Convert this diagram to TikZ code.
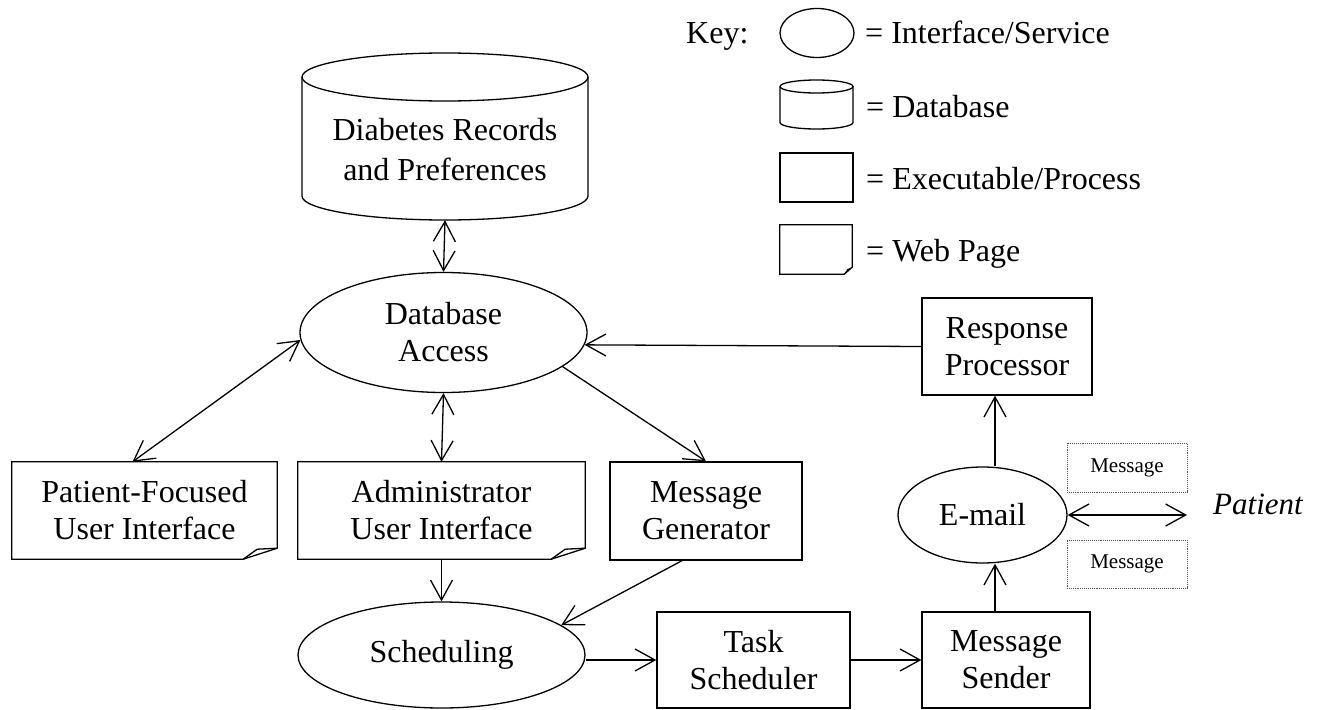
\documentclass[tikz,border=0pt]{standalone}
\usepackage{fontspec}
\setmainfont{Liberation Serif}
\usetikzlibrary{shapes.geometric,arrows.meta}
\begin{document}
\begin{tikzpicture}[x=1pt,y=-1pt,
  every node/.style={font=\fontsize{32}{37}\selectfont},
  ln/.style={line width=1.3pt},
  tipb/.tip={Straight Barb[length=20pt,width=22pt]},
  arr/.style={ln,-tipb},
  darr/.style={ln,tipb-tipb},
  proc/.style={draw,ln,rectangle,inner sep=0pt,align=center},
  webpg/.style={inner sep=0pt,align=center},
  iface/.style={draw,ln,ellipse,inner sep=0pt,align=center},
  msgbox/.style={draw=black!65,densely dotted,line width=0.9pt,inner sep=0pt,font=\fontsize{21}{25}\selectfont},
  keytxt/.style={anchor=base west,inner sep=0pt}
]
\useasboundingbox (0,0) rectangle (1321,709);

% ---------- Key ----------
\node[keytxt] (keylbl) at (686,44) {Key:};
\node[draw,ln,ellipse,minimum width=74pt,minimum height=49pt,inner sep=0pt] (kell) at (817,33) {};
\node[keytxt] (kt1) at (865,44) {= Interface/Service};
% key database
\node[minimum width=73pt,minimum height=49pt,inner sep=0pt] (kcyl) at (816.5,104.5) {};
\draw[ln] (816.5,86.5) ellipse[x radius=36.5pt,y radius=6.5pt];
\draw[ln] (780,86.5) -- (780,122.5) arc[start angle=180,end angle=360,x radius=36.5pt,y radius=6.5pt] -- (853,86.5);
\node[keytxt] (kt2) at (866,117) {= Database};
% key process
\node[draw,ln,minimum width=73pt,minimum height=49pt,inner sep=0pt] (krect) at (816.5,177.5) {};
\node[keytxt] (kt3) at (866,189) {= Executable/Process};
% key web page
\node[minimum width=72pt,minimum height=49pt,inner sep=0pt] (kweb) at (816,249.5) {};
\draw[ln] (kweb.north west) -- (kweb.north east) -- ([yshift=7pt]kweb.south east) -- ([xshift=-8pt]kweb.south east) -- (kweb.south west) -- cycle;
\fill ([xshift=-8pt]kweb.south east) -- ([xshift=-5pt,yshift=5pt]kweb.south east) -- ([yshift=7pt]kweb.south east) -- cycle;
\node[keytxt] (kt4) at (866,261) {= Web Page};

% ---------- Database ----------
\node[minimum width=286pt,minimum height=167pt,inner sep=0pt] (dbrec) at (445,136.5) {};
\draw[ln] (445,77) ellipse[x radius=143pt,y radius=24pt];
\draw[ln] (302,77) -- (302,196) arc[start angle=180,end angle=360,x radius=143pt,y radius=24pt] -- (588,77);
\node[align=center,inner sep=0pt,font=\fontsize{32}{40}\selectfont] (dbtext) at (445,150) {Diabetes Records\\and Preferences};

% ---------- Interfaces ----------
\node[iface,minimum width=287pt,minimum height=120pt] (dbacc) at (443.5,332.5) {Database\\Access};
\node[iface,minimum width=287pt,minimum height=106pt] (sched) at (441.5,655) {Scheduling};
\node[iface,minimum width=169pt,minimum height=96pt] (email) at (982.5,515) {E-mail};

% ---------- Processes ----------
\node[proc,minimum width=170pt,minimum height=97pt] (resp) at (1007,346.5) {Response\\Processor};
\node[proc,minimum width=168pt,minimum height=96pt] (sender) at (1006,660) {Message\\Sender};
\node[proc,minimum width=193pt,minimum height=96pt] (task) at (753.5,660) {Task\\Scheduler};
\node[proc,minimum width=192pt,minimum height=98pt] (msggen) at (706,511) {Message\\Generator};

% ---------- Web pages ----------
\node[webpg,minimum width=265pt,minimum height=97pt] (pfui) at (144.5,510.5) {Patient-Focused\\User Interface};
\node[webpg,minimum width=287pt,minimum height=97pt] (adui) at (441.5,510.5) {Administrator\\User Interface};
\foreach \n in {pfui,adui}{
  \draw[ln] (\n.north west) -- (\n.north east) -- ([yshift=11pt]\n.south east) -- ([xshift=-34pt]\n.south east) -- (\n.south west) -- cycle;
  \draw[ln] ([xshift=-34pt]\n.south east) -- ([xshift=-20pt,yshift=10pt]\n.south east) -- ([yshift=11pt]\n.south east);
}

% ---------- Messages / patient ----------
\node[msgbox,minimum width=120pt,minimum height=49pt] (m1) at (1127,467.5) {Message};
\node[msgbox,minimum width=120pt,minimum height=48pt] (m2) at (1127,564) {Message};
\node[font=\itshape\fontsize{31}{36}\selectfont,anchor=base west,inner sep=0pt] (pat) at (1213,514) {Patient};
\coordinate (patin) at (1187,515);

% ---------- Connectors ----------
\draw[darr] (dbrec.south) -- (dbacc.north);
\draw[darr] ([xshift=-12pt]pfui.north) -- (dbacc.183);
\draw[darr] (dbacc.south) -- (adui.north);
\draw[arr] (dbacc.-16) -- (msggen.north);
\draw[arr] (resp.west) -- (dbacc.-5);
\draw[arr] (adui.south) -- (sched.north);
\draw[arr] ([xshift=-24pt]msggen.south) -- (sched.14);
\draw[arr] (task.west -| sched.east) -- (task.west);
\draw[arr] (task.east) -- (sender.west);
\draw[arr] ([xshift=-11pt]sender.north) -- ([xshift=-11pt]sender.north |- email.south);
\draw[arr] ([xshift=-12pt]resp.south |- email.north) -- ([xshift=-12pt]resp.south);
\draw[darr] (email.east) -- (patin);
\end{tikzpicture}
\end{document}
